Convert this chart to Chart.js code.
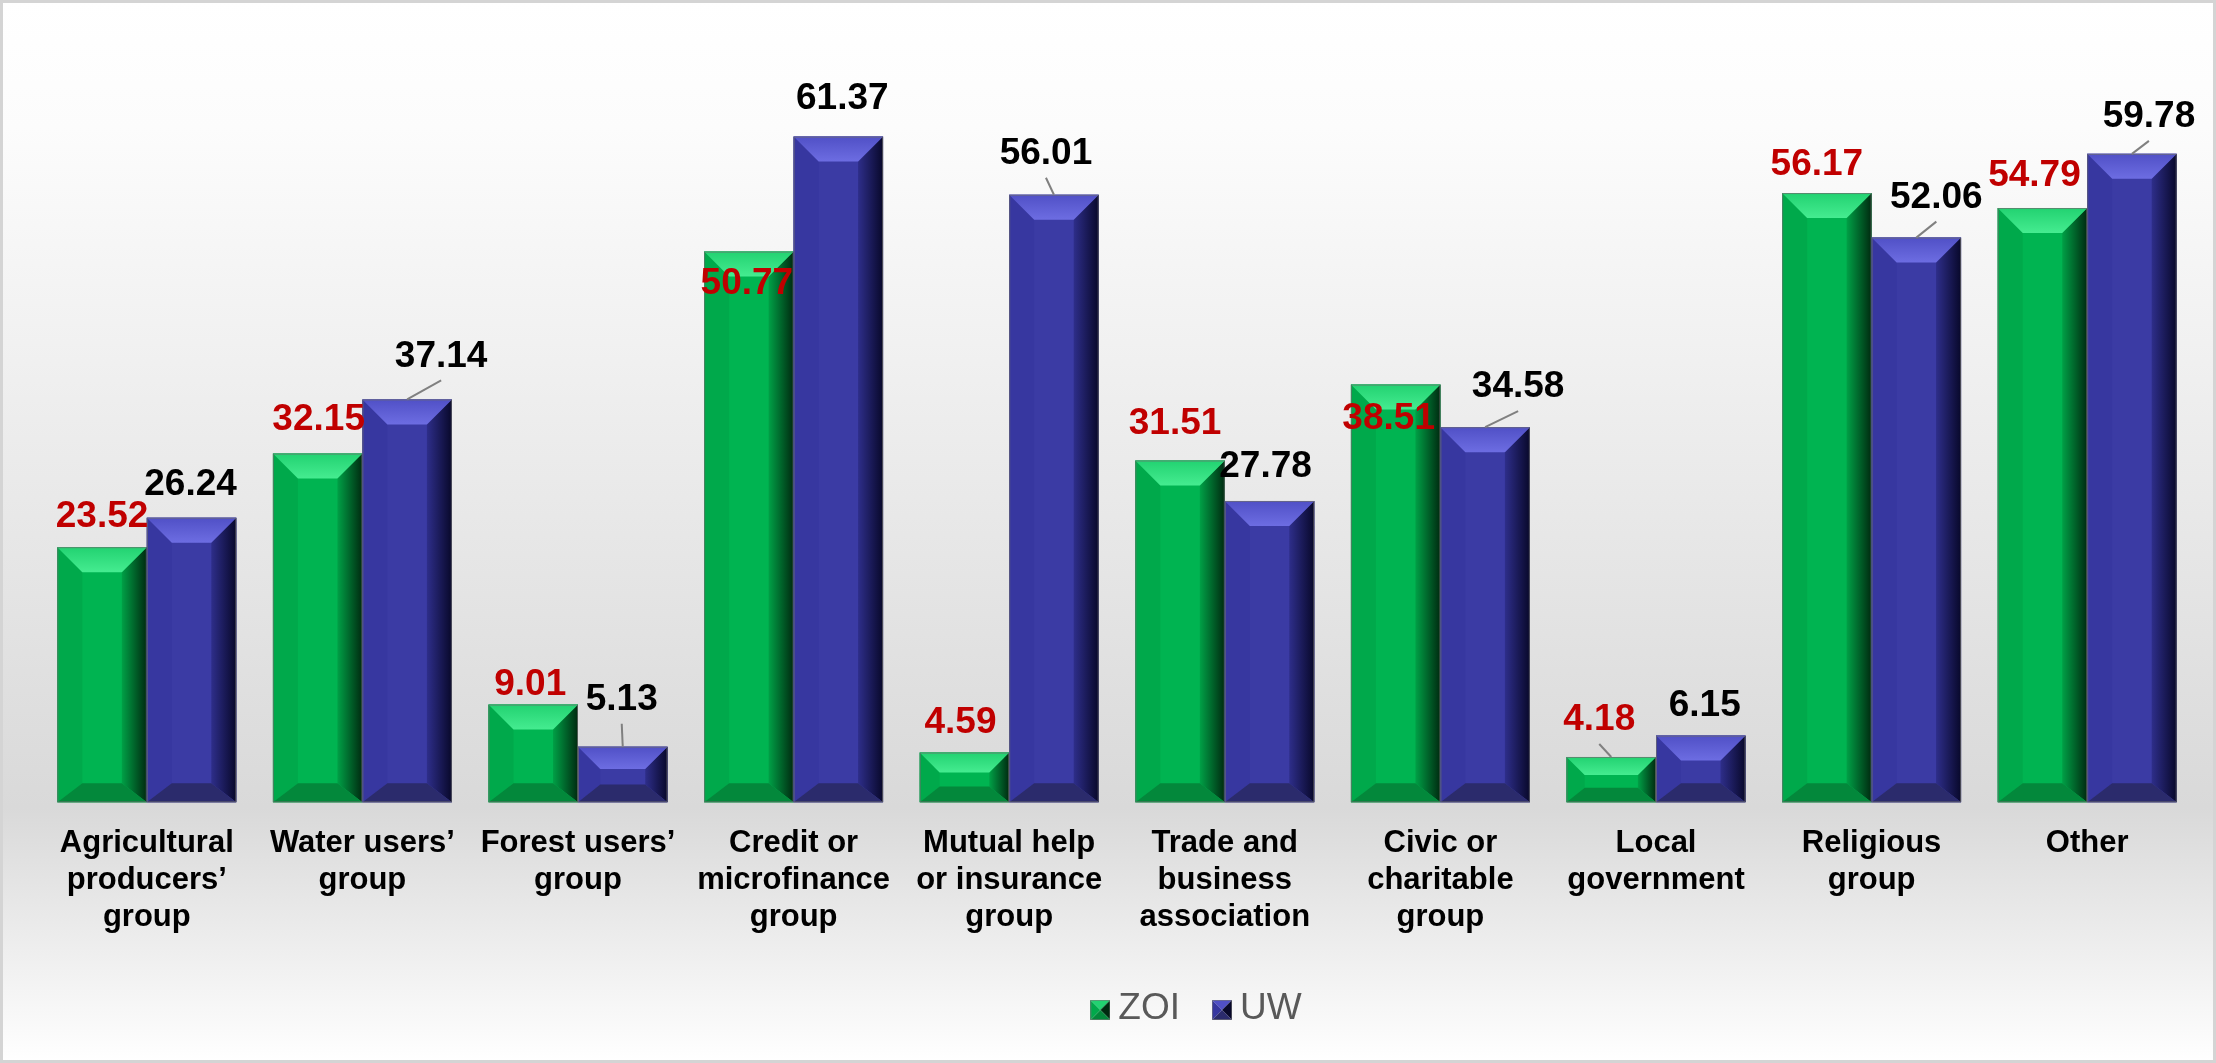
<!DOCTYPE html>
<html>
<head>
<meta charset="utf-8">
<script src="https://cdn.jsdelivr.net/npm/chart.js@4.4.0/dist/chart.umd.min.js"></script>
<style>
  html, body { margin: 0; padding: 0; background: #fff; }
  #wrap { width: 2216px; height: 1063px; }
</style>
</head>
<body>
<div id="wrap"><canvas id="bar-chart" width="2216" height="1063"></canvas></div>
<script>
// chart values
const categories = [
  ["Agricultural", "producers\u2019", "group"],
  ["Water users\u2019", "group"],
  ["Forest users\u2019", "group"],
  ["Credit or", "microfinance", "group"],
  ["Mutual help", "or insurance", "group"],
  ["Trade and", "business", "association"],
  ["Civic or", "charitable", "group"],
  ["Local", "government"],
  ["Religious", "group"],
  ["Other"]
];
const seriesNames = ["ZOI", "UW"];
const zoiValues = [23.52, 32.15, 9.01, 50.77, 4.59, 31.51, 38.51, 4.18, 56.17, 54.79];
const uwValues = [26.24, 37.14, 5.13, 61.37, 56.01, 27.78, 34.58, 6.15, 52.06, 59.78];

// where each value label sits, relative to the top centre of its bar (px)
const zoiLabelShift = [[0,-30],[1,-34],[-3,-20],[-2,32],[-4,-30],[-5,-37],[-7,34],[-12,-37],[-10,-28],[-8,-32]];
const uwLabelShift = [[-1,-33],[34,-43],[-1,-47],[4,-38],[-8,-41],[-4,-34],[33,-40],[4,-30],[20,-40],[17,-37]];
const zoiLeader = [false,false,false,false,false,false,false,true,false,false];
const uwLeader = [false,true,true,false,true,false,true,false,true,true];

const looks = [
  { face: '#00b451', top: ['#45ec90', '#22d271'], bottom: '#03883b', left: '#00a94b',
    right: ['#00a046', '#002a10'], label: '#c00000' },
  { face: '#3b3ba4', top: ['#6d6de2', '#5050c6'], bottom: '#2b2b6c', left: '#3737a0',
    right: ['#2e2e8a', '#08082a'], label: '#000000' }
];
const shifts = [zoiLabelShift, uwLabelShift];
const leaders = [zoiLeader, uwLeader];
const FONT = '"Liberation Sans", Arial, sans-serif';

function legendIcon(look) {
  const c = document.createElement('canvas');
  c.width = 20; c.height = 20;
  const g = c.getContext('2d');
  const tri = (pts, col) => {
    g.beginPath(); g.moveTo(pts[0], pts[1]);
    for (let i = 2; i < pts.length; i += 2) g.lineTo(pts[i], pts[i + 1]);
    g.closePath(); g.fillStyle = col; g.fill();
  };
  tri([0,0, 20,0, 10,10], look.top[1]);
  tri([0,0, 10,10, 0,20], look.left);
  tri([20,0, 20,20, 10,10], look.right[1]);
  tri([0,20, 10,10, 20,20], look.bottom);
  g.strokeStyle = 'rgba(120,120,120,0.6)'; g.lineWidth = 1;
  g.strokeRect(0.5, 0.5, 19, 19);
  return c;
}
const icons = looks.map(legendIcon);

const backdrop = {
  id: 'backdrop',
  beforeDraw(chart) {
    const { ctx, width, height } = chart;
    const grad = ctx.createLinearGradient(0, 0, 0, height);
    grad.addColorStop(0, '#ffffff');
    grad.addColorStop(0.12, '#fcfcfc');
    grad.addColorStop(0.76, '#d9d9d9');
    grad.addColorStop(1, '#ffffff');
    ctx.save();
    ctx.fillStyle = grad;
    ctx.fillRect(0, 0, width, height);
    ctx.strokeStyle = '#d4d4d4';
    ctx.lineWidth = 3;
    ctx.strokeRect(1.5, 1.5, width - 3, height - 3);
    ctx.restore();
  }
};

function poly(ctx, pts, fill) {
  ctx.beginPath();
  ctx.moveTo(pts[0], pts[1]);
  for (let i = 2; i < pts.length; i += 2) ctx.lineTo(pts[i], pts[i + 1]);
  ctx.closePath();
  ctx.fillStyle = fill;
  ctx.fill();
}

const bevel = {
  id: 'bevel',
  afterDatasetsDraw(chart) {
    const ctx = chart.ctx;
    chart.data.datasets.forEach((ds, di) => {
      const look = looks[di];
      chart.getDatasetMeta(di).data.forEach(bar => {
        const { x, y, base, width } = bar.getProps(['x', 'y', 'base', 'width'], true);
        const L = x - width / 2, R = x + width / 2, T = y, B = base;
        const h = B - T;
        const d = Math.min(25, h * 0.4);
        const db = Math.min(19, h * 0.32);
        ctx.save();
        ctx.fillStyle = look.face;
        ctx.fillRect(L, T, width, h);
        poly(ctx, [L, T, L + d, T + d, L + d, B - db, L, B], look.left);
        const rg = ctx.createLinearGradient(R - d, 0, R, 0);
        rg.addColorStop(0, look.right[0]);
        rg.addColorStop(1, look.right[1]);
        poly(ctx, [R, T, R, B, R - d, B - db, R - d, T + d], rg);
        const tg = ctx.createLinearGradient(0, T, 0, T + d);
        tg.addColorStop(0, look.top[1]);
        tg.addColorStop(1, look.top[0]);
        poly(ctx, [L, T, R, T, R - d, T + d, L + d, T + d], tg);
        poly(ctx, [L, B, L + d, B - db, R - d, B - db, R, B], look.bottom);
        ctx.strokeStyle = 'rgba(110,110,110,0.7)';
        ctx.lineWidth = 1;
        ctx.strokeRect(L + 0.5, T + 0.5, width - 1, h - 1);
        ctx.restore();
      });
    });
  }
};

const valueLabels = {
  id: 'valueLabels',
  afterDatasetsDraw(chart) {
    const ctx = chart.ctx;
    ctx.save();
    ctx.font = 'bold 37px ' + FONT;
    ctx.textAlign = 'center';
    ctx.textBaseline = 'middle';
    chart.data.datasets.forEach((ds, di) => {
      chart.getDatasetMeta(di).data.forEach((bar, i) => {
        const [dx, dy] = shifts[di][i];
        const lx = bar.x + dx, ly = bar.y + dy;
        if (leaders[di][i]) {
          ctx.beginPath();
          ctx.moveTo(bar.x, bar.y);
          ctx.lineTo(lx, ly + 24);
          ctx.strokeStyle = '#808080';
          ctx.lineWidth = 2;
          ctx.stroke();
        }
        ctx.fillStyle = looks[di].label;
        ctx.fillText(ds.data[i].toFixed(2), lx, ly);
      });
    });
    ctx.restore();
  }
};

// legend sits a bit right of centre in the original, so draw it by hand
const bottomLegend = {
  id: 'bottomLegend',
  afterDraw(chart) {
    const ctx = chart.ctx;
    ctx.save();
    ctx.font = '37px ' + FONT;
    ctx.textBaseline = 'middle';
    ctx.fillStyle = '#595959';
    const names = chart.data.datasets.map(ds => ds.label);
    const widths = names.map(n => ctx.measureText(n).width);
    const total = widths.reduce((a, w) => a + 28 + w, 0) + 32 * (names.length - 1);
    let x = 1196 - total / 2;
    const cy = 1009;
    names.forEach((n, i) => {
      ctx.drawImage(icons[i], x, cy - 9, 20, 20);
      ctx.fillText(n, x + 28, cy);
      x += 28 + widths[i] + 32;
    });
    ctx.restore();
  }
};

new Chart(document.getElementById('bar-chart'), {
  type: 'bar',
  data: {
    labels: categories,
    datasets: [
      { label: seriesNames[0], data: zoiValues, backgroundColor: looks[0].face,
        borderWidth: 0, categoryPercentage: 0.83, barPercentage: 1 },
      { label: seriesNames[1], data: uwValues, backgroundColor: looks[1].face,
        borderWidth: 0, categoryPercentage: 0.83, barPercentage: 1 }
    ]
  },
  options: {
    responsive: false,
    devicePixelRatio: 1,
    animation: false,
    layout: { padding: { top: 43, left: 39, right: 21, bottom: 104 } },
    scales: {
      x: {
        grid: { display: false, drawTicks: false },
        border: { display: false },
        ticks: {
          color: '#000',
          padding: 23,
          maxRotation: 0,
          autoSkip: false,
          font: { family: FONT, size: 31, weight: 'bold', lineHeight: 1.19 }
        }
      },
      y: { display: false, min: 0, max: 70 }
    },
    plugins: {
      legend: { display: false },
      tooltip: { enabled: false }
    }
  },
  plugins: [backdrop, bevel, valueLabels, bottomLegend]
});
</script>
</body>
</html>
